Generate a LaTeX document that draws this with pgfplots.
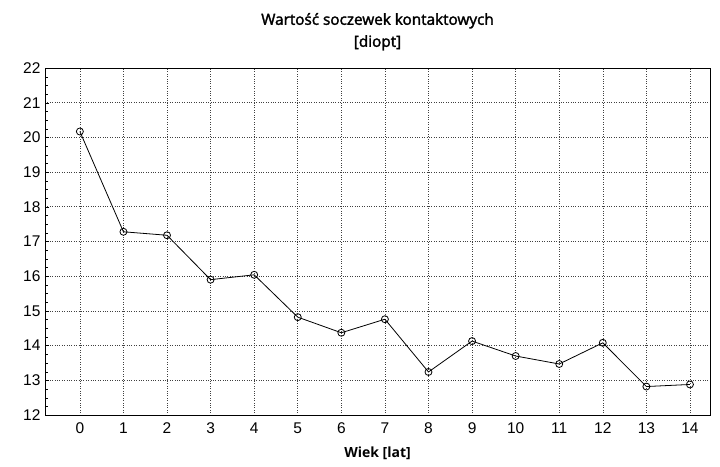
\documentclass[border=0pt]{standalone}
\usepackage{fontspec}
\setmainfont{Liberation Sans}
\newfontfamily\titlefont[FakeBold=2]{Open Sans}
\newfontfamily\labfont{Open Sans}
\usepackage{pgfplots}
\pgfplotsset{compat=1.18}
\begin{document}
\begin{tikzpicture}
\begin{axis}[
  scale only axis,
  width=665pt, height=347pt,
  xmin=-0.8, xmax=14.46,
  ymin=12, ymax=22,
  xtick={0,...,14},
  ytick={12,...,22},
  minor y tick num=3,
  grid=major,
  major grid style={black!75, dotted, line width=0.6pt},
  axis line style={black, line width=0.8pt},
  tick style={black},
  xtick style={draw=none},
  major tick length=4pt, minor tick length=3pt,
  ytick pos=left,
  tick label style={font=\fontsize{15.5}{17}\selectfont},
  /pgf/number format/assume math mode=true,
  xticklabel style={yshift=-4pt},
  yticklabel style={xshift=-1pt},
  xlabel={Wiek [lat]},
  xlabel style={font=\labfont\bfseries\fontsize{14}{16}\selectfont, yshift=-6pt},
  title={Wartość soczewek kontaktowych\\[5pt] [diopt]},
  title style={font=\titlefont\fontsize{15.3}{17}\selectfont, align=center, yshift=8pt},
]
\addplot[black, line width=0.8pt, mark=o, mark size=3.5pt, mark options={line width=0.8pt}]
  coordinates {
  (0,20.17) (1,17.28) (2,17.18) (3,15.90) (4,16.04) (5,14.82) (6,14.37) (7,14.76)
  (8,13.24) (9,14.13) (10,13.70) (11,13.47) (12,14.08) (13,12.82) (14,12.88)
  };
\coordinate (bl) at (rel axis cs:0,0);
\coordinate (tr) at (rel axis cs:1,1);
\end{axis}
\pgfresetboundingbox
\path[use as bounding box] ([shift={(-45pt,-51pt)}]bl) rectangle ([shift={(10pt,68pt)}]tr);
\end{tikzpicture}
\end{document}
